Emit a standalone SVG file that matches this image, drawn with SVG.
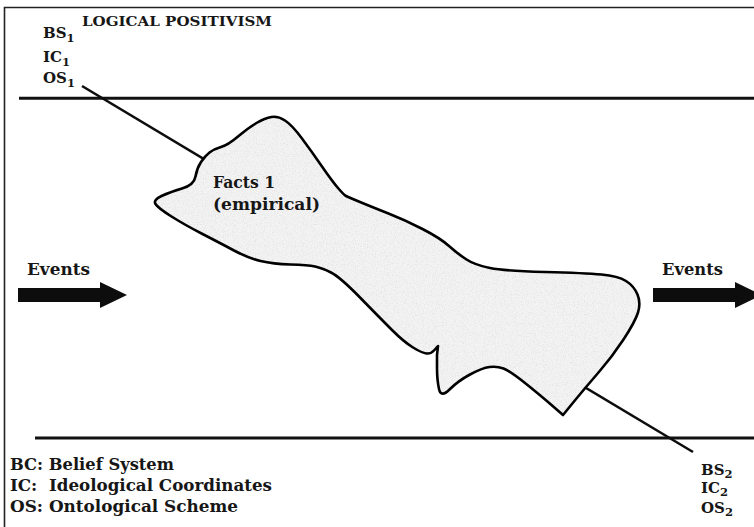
<svg xmlns="http://www.w3.org/2000/svg" xmlns:xlink="http://www.w3.org/1999/xlink" width="754" height="527" viewBox="0 0 754 527">
<style>
  text { font-family: "DejaVu Serif", "Liberation Serif", serif; font-weight: bold; fill: #161616; }
  .rule { stroke: #111; stroke-width: 3; fill: none; }
  .lbl { font-size: 15px; }
  .sub { font-size: 11.5px; }
  .leg { font-size: 16.5px; white-space: pre; }
  .ev { font-size: 16.5px; }
  .facts { font-size: 17.5px; }
  .blobline { fill: none; stroke: #000; stroke-width: 2.6; stroke-linejoin: round; }
</style>
<defs>
  <filter id="grain" x="0" y="0" width="100%" height="100%">
    <feTurbulence type="fractalNoise" baseFrequency="0.9" numOctaves="2" seed="4" result="n"/>
    <feColorMatrix in="n" type="matrix" values="0 0 0 0 0.62  0 0 0 0 0.62  0 0 0 0 0.62  1.3 0 0 0 -0.6" result="g"/>
    <feComposite in="g" in2="SourceGraphic" operator="atop"/>
  </filter>
  <path id="arrow" d="M18,288 H100 V282 L127,295 L100,308 V302 H18 Z" fill="#0d0d0d"/>
  <path id="blobShape" d="M155.5,204 Q153,200 161.5,196 Q170,192 182,188.5 Q194,185 195.5,176.5 Q197,168 201,162 Q205,156 209.5,152.5 Q214,149 221,147 Q228,145 238,136.5 Q248,128 256.5,123 Q265,118 271.5,117 Q278,116 285,120.5 Q292,125 302,138.5 Q312,152 322,166.5 Q332,181 338,188 Q344,195 346,196 Q348,197 360,202 Q372,207 388.5,213.5 Q405,220 422.5,229 Q440,238 449,246 Q458,254 466.5,259.5 Q475,265 490,268 Q505,271 545,272 Q585,273 601.5,274.5 Q618,276 626,281 Q634,286 637.5,294.5 Q641,303 638,312.5 Q635,322 623.5,339.5 Q612,357 598.5,372.5 Q585,388 574,401.5 L563,415 L551.5,405 Q540,395 525,383 Q510,371 503.5,368.5 Q497,366 489.5,367 Q482,368 470,374.5 Q458,381 449.5,389.5 Q441,398 439,389 Q437,380 437,367.5 L437,355 L438,346 L434.5,350 Q431,354 426.5,353.5 Q422,353 413,347.5 Q404,342 392,330 Q380,318 360,297.5 Q340,277 331,272.5 Q322,268 315,266.5 Q308,265 290.5,264.5 Q273,264 260.5,261 Q248,258 234,250.5 Q220,243 202.5,234 Q185,225 171.5,216.5 Q158,208 155.5,204 Z"/>
</defs>

<g id="frame">
  <path d="M4.5,527 V7.5 H754" fill="none" stroke="#222" stroke-width="1.6"/>
</g>

<g id="bands">
  <line class="rule" x1="19" y1="98.3" x2="754" y2="98.3"/>
  <line class="rule" x1="35" y1="438" x2="754" y2="438"/>
</g>

<g id="connectors">
  <line x1="82" y1="86" x2="693" y2="452" stroke="#0d0d0d" stroke-width="2.6"/>
</g>

<g id="facts-blob">
  <use xlink:href="#blobShape" fill="#f3f3f3" filter="url(#grain)"/>
  <use xlink:href="#blobShape" class="blobline"/>
  <text class="facts" x="213" y="188" textLength="62" lengthAdjust="spacingAndGlyphs">Facts 1</text>
  <text class="facts" x="213" y="210" textLength="107" lengthAdjust="spacingAndGlyphs">(empirical)</text>
</g>

<g id="title">
  <text x="82" y="26" font-size="13" textLength="190" lengthAdjust="spacingAndGlyphs">LOGICAL POSITIVISM</text>
</g>

<g id="scheme-1">
  <text class="lbl" x="43" y="38">BS<tspan class="sub" dy="4">1</tspan></text>
  <text class="lbl" x="43" y="61.5">IC<tspan class="sub" dy="4">1</tspan></text>
  <text class="lbl" x="43" y="83">OS<tspan class="sub" dy="4">1</tspan></text>
</g>

<g id="scheme-2">
  <text class="lbl" x="701" y="475" font-size="14">BS<tspan class="sub" dy="3">2</tspan></text>
  <text class="lbl" x="701" y="493" font-size="14">IC<tspan class="sub" dy="3">2</tspan></text>
  <text class="lbl" x="701" y="513" font-size="14">OS<tspan class="sub" dy="3">2</tspan></text>
</g>

<g id="events-left">
  <text class="ev" x="27" y="275" textLength="63" lengthAdjust="spacingAndGlyphs">Events</text>
  <use xlink:href="#arrow"/>
</g>

<g id="events-right">
  <text class="ev" x="662" y="275" textLength="61" lengthAdjust="spacingAndGlyphs">Events</text>
  <use xlink:href="#arrow" transform="translate(635,0)"/>
</g>

<g id="legend">
  <text class="leg" x="10" y="470" textLength="164" lengthAdjust="spacingAndGlyphs">BC: Belief System</text>
  <text class="leg" x="10" y="491" textLength="262" lengthAdjust="spacingAndGlyphs">IC:  Ideological Coordinates</text>
  <text class="leg" x="10" y="512" textLength="228" lengthAdjust="spacingAndGlyphs">OS: Ontological Scheme</text>
</g>
</svg>
